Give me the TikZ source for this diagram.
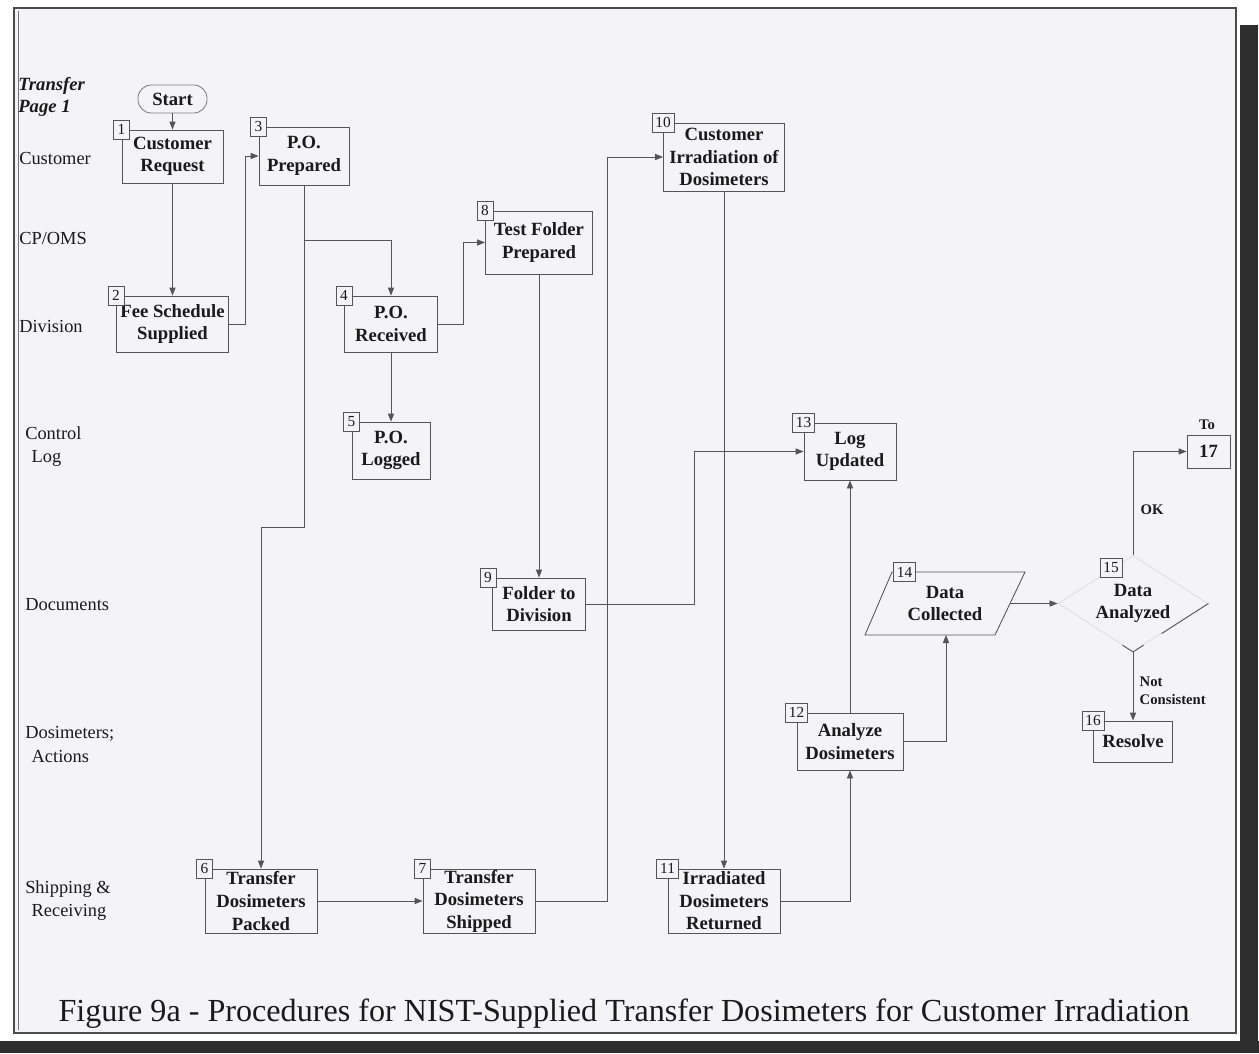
\documentclass[tikz,border=0pt]{standalone}
\usepackage{fontspec}
\setmainfont{Liberation Serif}
\usetikzlibrary{arrows.meta,shapes.geometric,calc}
\definecolor{ln}{HTML}{555555}
\definecolor{bg}{HTML}{F4F4F6}
\definecolor{txt}{HTML}{1A1A1A}
\begin{document}
\begin{tikzpicture}[x=0.75pt,y=-0.75pt,
  every node/.style={text=txt},
  bfont/.style={font=\fontsize{14}{16.9}\selectfont\bfseries},
  box/.style={bfont, draw=ln, line width=0.65pt, fill=bg, align=center, inner sep=0pt},
  sz/.style 2 args={minimum width=#1*0.75pt, minimum height=#2*0.75pt},
  num/.style={draw=ln, line width=0.6pt, fill=bg, font=\fontsize{11.5}{12}\selectfont,
    inner xsep=2.5pt, inner ysep=1.2pt, minimum height=14pt, minimum width=12pt},
  arr/.style={draw=ln, line width=0.65pt, -{Triangle[length=6pt,width=4.6pt]}},
  plain/.style={draw=ln, line width=0.65pt},
  lane/.style={anchor=west, align=left, inner sep=0pt, font=\fontsize{13.8}{17.3}\selectfont},
  lbl/.style={anchor=west, align=left, font=\fontsize{11}{13.5}\selectfont\bfseries},
]
\useasboundingbox (0,0) rectangle (1259,1053);
\fill[white] (0,0) rectangle (1259,1053);
% frame
\fill[black!82] (1240,25) rectangle (1258,1053);
\fill[black!82] (0,1041) rectangle (1259,1053);
\fill[bg] (14,8) rectangle (1236,1033);
\draw[black!70, line width=1.5pt] (14,8) rectangle (1236,1033);
\draw[black!55, line width=0.6pt] (18.5,11) -- (18.5,1030);

% lane labels
\node[lane, font=\fontsize{14}{16.5}\selectfont\bfseries\itshape] (tp) at (18,97) {Transfer\\Page 1};
\node[lane] (l1) at (19,158) {Customer};
\node[lane] (l2) at (19,238) {CP/OMS};
\node[lane] (l3) at (19,326) {Division};
\node[lane] (l4) at (25,446.5) {Control\\\hspace*{0.35em}Log};
\node[lane] (l5) at (25,605) {Documents};
\node[lane] (l6) at (25,744.5) {Dosimeters;\\\hspace*{0.35em}Actions};
\node[lane] (l7) at (25,900.5) {Shipping \&\\\hspace*{0.35em}Receiving};

% nodes
\node[box, draw=black!50, rounded corners=10pt, sz={69}{28}] (start) at (172.5,99) {Start};
\node[box, sz={101}{53}] (b1) at (172.5,156.5) {Customer\\Request};
\node[box, sz={90}{58}] (b3) at (304,156) {P.O.\\Prepared};
\node[box, sz={112}{56}] (b2) at (172.5,324) {Fee Schedule\\Supplied};
\node[box, sz={93}{56}] (b4) at (391,324) {P.O.\\Received};
\node[box, sz={78}{57}] (b5) at (391,450.5) {P.O.\\Logged};
\node[box, sz={107}{63}] (b8) at (539,242.5) {Test Folder\\Prepared};
\node[box, sz={121}{68}] (b10) at (724,157) {Customer\\Irradiation of\\Dosimeters};
\node[box, sz={93}{52}] (b9) at (539,604) {Folder to\\Division};
\node[box, sz={92}{57}] (b13) at (850,451.5) {Log\\Updated};
\node[box, sz={106}{57}] (b12) at (850,741.5) {Analyze\\Dosimeters};
\node[box, sz={112}{64}] (b11) at (724,901) {Irradiated\\Dosimeters\\Returned};
\node[box, sz={112}{64}] (b6) at (261,901) {Transfer\\Dosimeters\\Packed};
\node[box, sz={112}{64}] (b7) at (479,901) {Transfer\\Dosimeters\\Shipped};
\node[box, sz={79}{41}] (b16) at (1133,741.5) {Resolve};
\node[box, sz={43}{33}] (b17) at (1208.5,451.5) {17};
\node[lbl, anchor=south] (to) at (1207,434) {To};

% parallelogram 14
\draw[plain, fill=bg] (892,572) -- (1025,572) -- (995,635) -- (865,635) -- cycle;
\node[bfont, align=center] (b14) at (945,603.5) {Data\\Collected};
\coordinate (b14e) at (1010,603.5);
\coordinate (b14s) at (946,635);

% diamond 15
\node[diamond, draw=black!12, line width=0.7pt, aspect=1.5625, inner sep=0pt,
  sz={150}{96}, bfont, align=center] (d15) at (1133,603.5) {Data\\Analyzed};
\draw[plain] ($(d15.south)!0.38!(d15.east)$) -- (d15.east);
\draw[plain] ($(d15.south)!0.14!(d15.west)$) -- (d15.south) -- ($(d15.south)!0.14!(d15.east)$);

% number boxes
\node[num] (n1) at (b1.north west) {1};
\node[num] (n2) at (b2.north west) {2};
\node[num] (n3) at (b3.north west) {3};
\node[num] (n4) at (b4.north west) {4};
\node[num] (n5) at (b5.north west) {5};
\node[num] (n6) at (b6.north west) {6};
\node[num] (n7) at (b7.north west) {7};
\node[num] (n8) at (b8.north west) {8};
\node[num] (n9) at ($(b9.north west)+(-4,0)$) {9};
\node[num] (n10) at (b10.north west) {10};
\node[num] (n11) at (b11.north west) {11};
\node[num] (n12) at (b12.north west) {12};
\node[num] (n13) at (b13.north west) {13};
\node[num] (n14) at (904.5,572) {14};
\node[num] (n15) at (1111,568) {15};
\node[num] (n16) at (b16.north west) {16};

% connectors
\draw[arr] (start) -- (b1);
\draw[arr] (b1) -- (b2);
\draw[arr] (b2.east) -- ++(16,0) |- (b3.west);
\draw[arr] (b3.south) -- ++(0,55) -| (b4.north);
\draw[arr] (b3.south) -- ++(0,342) -| (b6.north);
\draw[arr] (b4) -- (b5);
\draw[arr] (b4.east) -- ++(25,0) |- (b8.west);
\draw[arr] (b8) -- (b9);
\draw[arr] (b9.east) -- ++(108,0) |- (b13.west);
\draw[arr] (b6) -- (b7);
\draw[arr] (b7.east) -- ++(72,0) |- (b10.west);
\draw[arr] (b10) -- (b11);
\draw[arr] (b11.east) -| (b12.south);
\draw[arr] (b12) -- (b13);
\draw[arr] (b12.east) -| (b14s);
\draw[arr] (b14e) -- (d15.west);
\draw[arr] (d15.north) |- (b17.west);
\draw[arr] (d15.south) -- (b16.north);
\node[lbl] (ok) at (1136,510) {OK};
\node[lbl] (nc) at (1135,691) {Not\\Consistent};

% caption
\node[font=\fontsize{24.1}{26}\selectfont] (cap) at (624,1014) {Figure 9a - Procedures for NIST-Supplied Transfer Dosimeters for Customer Irradiation};
\end{tikzpicture}
\end{document}
